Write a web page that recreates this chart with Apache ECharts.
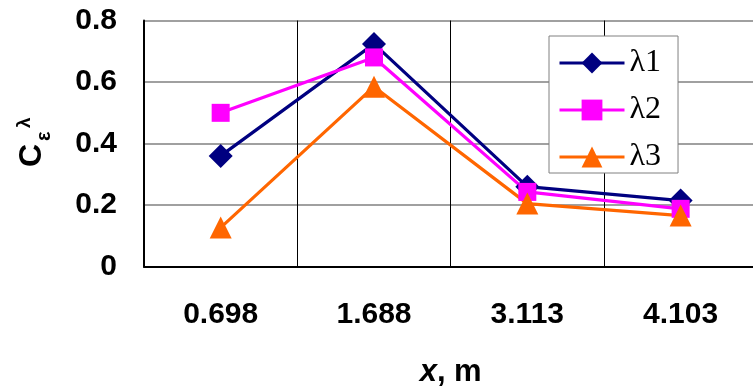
<!DOCTYPE html>
<html>
<head>
<meta charset="utf-8">
<script src="https://cdn.jsdelivr.net/npm/echarts@6/dist/echarts.min.js"></script>
<style>
html,body{margin:0;padding:0;background:#fff;}
#chart{width:753px;height:389px;}
</style>
</head>
<body>
<div id="chart"></div>
<script>
// Data
const categories = ['0.698', '1.688', '3.113', '4.103'];
const seriesNames = ['λ1', 'λ2', 'λ3'];
const lambda1 = [0.36, 0.724, 0.26, 0.215];
const lambda2 = [0.50, 0.68, 0.243, 0.188];
const lambda3 = [0.127, 0.585, 0.205, 0.166];
const yTicks = [0, 0.2, 0.4, 0.6, 0.8];

const SANS = 'Liberation Sans, Arial, sans-serif';
const SERIF = 'Liberation Serif, Times New Roman, serif';

const chart = echarts.init(document.getElementById('chart'));
const lineW = 3.2;
const option = {
  backgroundColor: '#fff',
  animation: false,
  grid: { left: 144, top: 20.5, width: 613.3, height: 246.2, containLabel: false, outerBoundsMode: 'none' },
  legend: {
    orient: 'vertical',
    left: 549, top: 36,
    padding: [11, 17, 0, 9],
    itemGap: 15,
    itemWidth: 65,
    itemHeight: 26,
    backgroundColor: '#fff',
    borderColor: '#808080',
    borderWidth: 1,
    lineStyle: { width: 3 },
    textStyle: { fontFamily: SERIF, fontSize: 32, color: '#000' },
    data: seriesNames
  },
  xAxis: {
    type: 'category',
    data: categories,
    boundaryGap: true,
    axisLine: { show: true, lineStyle: { color: '#000', width: 2 } },
    axisTick: { show: false },
    axisLabel: { fontFamily: SANS, fontWeight: 'bold', fontSize: 30, color: '#000', margin: 33 },
    splitLine: { show: true, lineStyle: { color: '#000', width: 1 } },
    name: '{i|x}{n|, m}',
    nameLocation: 'middle',
    nameGap: 90,
    nameTextStyle: {
      rich: {
        i: { fontFamily: SANS, fontWeight: 'bold', fontStyle: 'italic', fontSize: 31, color: '#000' },
        n: { fontFamily: SANS, fontWeight: 'bold', fontSize: 31, color: '#000' }
      }
    }
  },
  yAxis: {
    type: 'value',
    min: yTicks[0], max: yTicks[yTicks.length - 1], interval: 0.2,
    axisLine: { show: true, lineStyle: { color: '#000', width: 2 } },
    axisTick: { show: false },
    axisLabel: { fontFamily: SANS, fontWeight: 'bold', fontSize: 30, color: '#000', margin: 27,
      formatter: v => String(Math.round(v * 10) / 10) },
    splitLine: { show: true, lineStyle: { color: '#808080', width: 1.5 } }
  },
  graphic: [{
    type: 'group',
    x: 32.5, y: 167,
    rotation: Math.PI / 2,
    children: [
      { type: 'text', x: 0, y: 0, style: { text: 'C', font: 'bold 32px ' + SANS, fill: '#000', textAlign: 'left', textVerticalAlign: 'middle' } },
      { type: 'text', x: 26, y: 12, style: { text: 'ε', font: 'bold 20px ' + SANS, fill: '#000', textAlign: 'left', textVerticalAlign: 'middle' } },
      { type: 'text', x: 39, y: -7.5, style: { text: 'λ', font: 'bold 19px ' + SANS, fill: '#000', textAlign: 'left', textVerticalAlign: 'middle' } }
    ]
  }],
  series: [
    { name: seriesNames[0], type: 'line', data: lambda1, symbol: 'diamond', symbolSize: 24,
      lineStyle: { color: '#000080', width: lineW }, itemStyle: { color: '#000080' } },
    { name: seriesNames[1], type: 'line', data: lambda2, symbol: 'rect', symbolSize: 18,
      lineStyle: { color: '#FF00FF', width: lineW }, itemStyle: { color: '#FF00FF' } },
    { name: seriesNames[2], type: 'line', data: lambda3, symbol: 'triangle', symbolSize: 22,
      lineStyle: { color: '#FF6600', width: lineW }, itemStyle: { color: '#FF6600' } }
  ]
};
chart.setOption(option);
</script>
</body>
</html>
